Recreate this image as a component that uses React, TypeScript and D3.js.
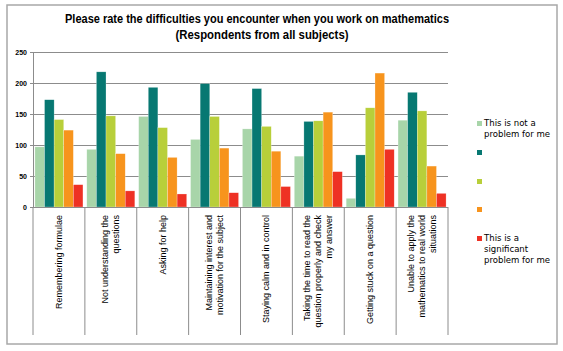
import React from "react";
import * as d3 from "d3";

const categories: string[][] = [
  ["Remembering formulae"],
  ["Not understanding the", "questions"],
  ["Asking for help"],
  ["Maintaining interest and", "motivation for the subject"],
  ["Staying calm and in control"],
  ["Taking the time to read the", "question properly and check", "my answer"],
  ["Getting stuck on a question"],
  ["Unable to apply the", "mathematics to real world", "situations"],
];

const seriesNames: string[][] = [
  ["This is not a", "problem for me"],
  [],
  [],
  [],
  ["This is a", "significant", "problem for me"],
];

const s1 = [97, 93, 146, 109, 126, 82, 14, 140];
const s2 = [173, 218, 193, 199, 191, 138, 84, 185];
const s3 = [141, 147, 128, 146, 130, 139, 160, 155];
const s4 = [124, 86, 80, 95, 90, 153, 216, 66];
const s5 = [36, 26, 21, 23, 33, 57, 93, 22];
const series = [s1, s2, s3, s4, s5];

const yTicks = [0, 50, 100, 150, 200, 250];
const colors = ["#a8d5a9", "#077872", "#b8cf3a", "#f7941d", "#ee3124"];

export default function App() {
  const left = 33, right = 448, top = 52, bottom = 207;
  const y = d3.scaleLinear().domain([0, 250]).range([bottom, top]);
  const x0 = d3.scaleBand<number>().domain(d3.range(categories.length)).range([left, right]).paddingInner(0).paddingOuter(0);
  const x1 = d3.scaleBand<number>().domain(d3.range(5)).range([0, x0.bandwidth()]).paddingInner(0).paddingOuter(0.2);
  const legendY = [121, 150, 179, 207, 236];
  return (
    <svg width={563} height={351} style={{ position: "absolute", left: 0, top: 0 }} fontFamily="Arial, 'Liberation Sans', sans-serif">
      <rect x={0} y={0} width={563} height={351} fill="#fff" />
      <rect x={7} y={5} width={550} height={339} fill="none" stroke="#a8a8a8" strokeWidth={1.5} />
      <text x={257} y={23} textAnchor="middle" fontSize={12.5} fontWeight="bold" fill="#000" textLength={384} lengthAdjust="spacingAndGlyphs">Please rate the difficulties you encounter when you work on mathematics</text>
      <text x={262} y={39} textAnchor="middle" fontSize={12.5} fontWeight="bold" fill="#000" textLength={173} lengthAdjust="spacingAndGlyphs">(Respondents from all subjects)</text>
      {yTicks.map((t) => (
        <g key={t}>
          {t > 0 && <line x1={left} x2={right} y1={y(t) + 0.5} y2={y(t) + 0.5} stroke="#8c8c8c" strokeWidth={1} />}
          <line x1={left - 3} x2={left} y1={y(t) + 0.5} y2={y(t) + 0.5} stroke="#8c8c8c" />
          <text x={27} y={y(t) + 2.5} textAnchor="end" fontSize={7} fontWeight="bold" fill="#000">{t}</text>
        </g>
      ))}
      {series.map((s, si) =>
        s.map((v, ci) => (
          <rect key={`${si}-${ci}`} x={(x0(ci) as number) + (x1(si) as number)} y={y(v)} width={x1.bandwidth()} height={bottom - y(v)} fill={colors[si]} stroke="#fff" strokeOpacity={0.5} strokeWidth={0.5} />
        ))
      )}
      <line x1={left + 0.5} x2={left + 0.5} y1={top} y2={bottom} stroke="#8c8c8c" />
      <line x1={left} x2={right} y1={bottom + 0.5} y2={bottom + 0.5} stroke="#8c8c8c" />
      {d3.range(categories.length + 1).map((i) => {
        const xx = left + i * x0.bandwidth();
        return <line key={i} x1={xx} x2={xx} y1={bottom} y2={335} stroke="#8c8c8c" />;
      })}
      {categories.map((lines, ci) => {
        const cx = (x0(ci) as number) + x0.bandwidth() / 2;
        const n = lines.length;
        return lines.map((ln, li) => {
          const off = (li - (n - 1) / 2) * 11 + 3;
          return (
            <text key={`${ci}-${li}`} transform={`translate(${cx + off},215) rotate(-90)`} textAnchor="end" fontSize={9} fill="#000">{ln}</text>
          );
        });
      })}
      {seriesNames.map((lines, i) => (
        <g key={i}>
          <rect x={477} y={legendY[i]} width={5} height={5} fill={colors[i]} />
          {lines.map((ln, li) => (
            <text key={li} x={484} y={legendY[i] + 5 + li * 11} fontSize={9.5} fill="#000" fontFamily="'DejaVu Sans Condensed', 'Liberation Sans Narrow', Arial, sans-serif">{ln}</text>
          ))}
        </g>
      ))}
    </svg>
  );
}
